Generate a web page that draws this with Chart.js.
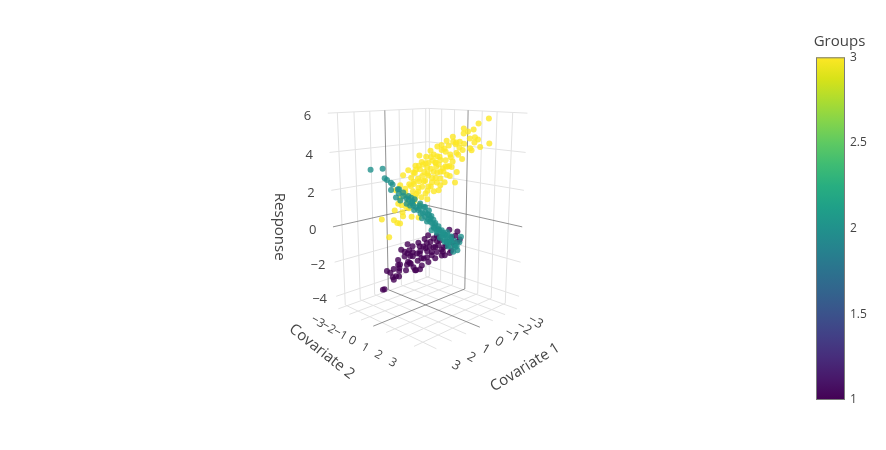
<!DOCTYPE html>
<html><head><meta charset="utf-8">
<script src="https://cdn.jsdelivr.net/npm/chart.js@4.4.1/dist/chart.umd.min.js"></script>
<style>html,body{margin:0;padding:0;background:#fff;}canvas{display:block;}</style>
</head><body>
<canvas id="c" width="886" height="450"></canvas>
<script>
// ---------- data ----------
const cov1Ticks = [-3,-2,-1,0,1,2,3];
const cov2Ticks = [-3,-2,-1,0,1,2,3];
const responseTicks = [-4,-2,0,2,4,6];
const groupTicks = [1,1.5,2,2.5,3];
const groupLabels = [1,2,3];

const g1Cov1 = [-0.73,-1.75,-0.32,-0.62,0.68,-0.55,0.71,0.61,-0.58,-0.05,-0.58,0.05,-1.48,0.53,-0.36,1.42,0.73,0.99,-0.36,0.26,-0.09,-0.97,0.28,0.10,1.40,-0.01,1.07,0.97,0.32,1.21,1.10,2.03,0.08,1.43,0.96,2.44,0.31,0.57,-0.96,-0.52,-0.81,-1.45,-0.86,-0.20,0.55,-0.60,0.52,0.48,-0.94,-0.72,-1.18,1.55,-0.52,0.93,0.75,2.50,1.15,1.41,-0.18,-0.23,-0.50,-0.84,-0.39,-0.17,1.31,-0.13,
  0.62,-0.59,-0.10,-1.21,0.12,-1.21,-0.10,0.84,0.21,1.22,1.23,0.83,-1.31,-0.55,-1.42,1.83];
const g1Cov2 = [1.03,0.65,1.12,0.22,0.92,-1.15,-0.61,0.49,-0.22,0.55,0.38,1.25,0.08,0.17,-0.24,0.58,-0.83,-0.09,-0.84,0.14,0.39,-0.13,0.52,-0.50,0.20,-1.69,-0.97,0.13,-1.12,-0.71,-1.30,-0.73,-1.48,-0.73,-1.56,-0.44,-0.41,0.33,-0.24,0.92,1.11,0.95,1.66,-0.20,1.05,-1.10,-0.42,0.62,0.14,1.22,0.98,-0.25,-0.88,-0.23,-1.35,-0.50,-1.25,-0.51,-1.02,0.63,0.80,-0.26,1.19,-0.24,0.30,-1.57,
  -0.32,-0.52,0.90,0.81,1.48,-0.49,0.20,0.26,-1.01,-0.72,-1.43,0.47,-0.09,1.25,0.82,0.18];
const g1Response = [-0.22,-0.62,-0.40,-0.71,-0.25,-1.40,-1.07,-0.98,-1.14,-1.17,-1.22,-1.12,-1.53,-1.32,-1.65,-1.08,-1.56,-1.56,-1.95,-1.83,-1.67,-1.83,-1.93,-2.16,-1.70,-2.22,-1.98,-2.15,-2.50,-2.35,-2.58,-2.30,-2.98,-2.77,-3.19,-3.13,-2.64,-2.10,-2.22,-1.65,-1.40,-1.09,-0.67,-1.43,-1.17,-1.62,-1.77,-1.59,-1.07,-0.61,-1.23,-1.93,-2.27,-1.28,-2.45,-3.16,-3.19,-2.73,-2.94,-0.85,-1.47,-1.02,-0.78,-0.89,-1.82,-2.05,
  -1.14,-1.29,-0.50,-1.11,-0.90,-1.67,-1.23,-1.37,-2.38,-2.52,-2.81,-2.21,-2.11,-1.45,-0.76,-0.93];

const g2Cov1 = [2.09,1.04,1.74,1.06,1.91,0.17,1.01,1.57,0.32,0.85,0.38,1.01,-0.46,0.35,-0.42,1.36,0.13,0.45,-0.78,0.32,0.09,-0.79,0.04,-0.68,0.56,-1.27,-0.55,-0.17,0.14,0.43,-0.04,0.89,-0.82,0.17,-0.66,0.40,-0.47,-0.21,-1.38,-0.70,-0.39,-1.51,-0.68,-1.04,-0.22,-1.99,-1.21,1.74,0.43,0.68,-0.39,-0.04,-1.57,-0.80,-1.63,0.21,-0.05,-0.02,-1.57,1.64,1.05,0.17,0.29,-0.49,0.19,-1.57,-1.14,-0.50,0.18,0.58,
  0.94,0.10,0.87,0.02,0.87,-0.92,-0.17,0.23,-0.91,-0.40,-0.93,-0.29,-1.49,1.32];
const g2Cov2 = [-1.79,-2.14,-0.94,-1.46,-0.31,-1.87,-0.91,-0.47,-1.12,-0.35,-0.58,0.29,-0.94,0.35,-0.18,0.64,-0.23,0.45,-0.42,0.08,0.21,-0.31,0.76,0.28,1.04,-0.43,0.65,1.27,-0.94,0.07,-0.16,0.41,-0.58,0.53,0.06,1.60,0.37,1.11,0.18,1.10,0.69,0.41,1.48,0.64,1.82,0.29,1.31,-0.64,-1.23,-0.18,0.19,1.34,0.17,1.50,1.03,1.79,-0.05,0.92,0.37,-1.24,-0.75,-1.27,0.51,0.09,1.41,-0.13,1.24,1.60,-0.98,-0.08,
  -0.64,-1.20,-0.07,-0.42,0.73,-0.78,0.27,0.88,0.11,0.90,0.73,1.58,0.09,-0.62];
const g2Response = [3.08,2.96,2.59,2.28,2.47,1.73,1.77,1.71,1.36,1.49,1.28,1.64,0.83,1.12,0.70,1.19,0.62,0.62,0.14,0.44,0.24,-0.11,0.15,-0.17,0.02,-0.68,-0.43,-0.34,1.39,1.27,0.96,1.06,0.28,0.31,-0.02,0.10,-0.47,-0.38,-0.95,-0.74,-0.67,-1.20,-0.94,-1.34,-1.16,-1.67,-0.98,2.11,1.48,1.18,-0.15,-0.57,-1.35,-1.07,-0.82,-0.01,0.69,-0.05,-0.93,2.63,1.41,0.99,0.47,0.20,-0.30,-1.35,-1.45,-0.67,0.94,1.07,
  1.85,1.43,1.34,0.85,0.95,0.28,0.51,0.04,-0.47,-0.34,-0.64,-0.95,-1.29,2.09];

const g3Cov1 = [-2.07,-1.93,-1.28,-1.97,-0.52,-2.26,-1.69,-1.28,-2.38,-2.00,-1.20,-0.55,-1.54,-0.63,-1.52,-0.05,-0.63,-0.27,-1.50,-0.10,-0.27,-1.06,-0.50,-1.18,0.59,-1.21,-0.49,-0.17,-0.40,0.13,0.14,0.71,-0.88,-0.04,-0.92,0.16,-0.99,0.63,-0.66,-0.10,-0.39,-1.33,0.76,-0.08,0.68,-1.21,-0.49,1.03,-0.16,0.25,-0.34,0.23,-1.40,-0.71,0.30,1.36,0.07,0.33,-0.90,-0.28,0.87,-0.07,0.64,-0.20,1.58,-0.31,0.41,0.67,-0.46,1.15,0.56,1.07,-0.46,1.31,0.42,1.54,0.79,1.53,-0.06,0.44,1.29,0.53,1.30,1.42,2.06,-1.54,-1.54,-0.93,-0.87,0.18,0.33,0.87,-0.88,-0.08,-0.23,1.65,0.35,1.28,-1.39,-0.05,0.12,-1.74,1.19,0.13,0.26,-0.38,-1.82,-0.99,
  -0.82,-1.31,-0.03,-0.38,0.98,-0.46,0.66,1.31,0.54,1.30,-0.75,-0.22,-1.85,-0.95,-0.16,-0.08,-1.38,-1.17,-1.18,-0.16,0.19,-0.26,0.91,-0.27,0.08,-1.10,0.38,1.24];
const g3Cov2 = [2.37,0.83,2.08,1.57,2.12,0.56,1.79,2.38,1.58,2.50,1.00,1.85,0.14,1.33,0.92,2.05,0.53,1.17,0.30,0.50,0.57,-0.05,1.30,0.78,1.02,-0.49,0.59,1.27,-0.40,0.37,-0.34,0.59,-0.52,0.74,0.32,1.84,0.89,0.27,-0.54,0.50,0.69,0.23,0.04,-0.32,0.92,-0.49,0.59,0.07,-0.64,0.25,0.14,1.07,0.00,1.41,-0.90,0.64,-0.17,0.57,-0.30,0.68,-0.57,-1.03,0.16,-0.20,0.02,-1.39,-0.31,0.43,-0.34,-0.65,-0.76,0.23,-0.94,-0.61,-1.02,0.46,-0.89,-0.63,-1.14,-0.04,-0.99,-1.63,-0.50,-1.82,-0.46,-0.17,1.64,2.03,0.07,0.32,-0.53,0.43,-0.52,0.78,-0.37,0.36,-0.45,-0.38,0.19,0.45,0.19,0.64,-0.39,-0.53,1.34,-1.32,1.92,2.10,
  1.12,0.21,0.83,-0.02,0.62,-1.25,-0.56,-0.21,-1.34,-0.80,0.55,1.52,0.45,1.65,-0.44,2.08,1.28,2.07,-0.03,0.56,0.12,-0.84,-0.11,-0.13,1.52,-0.60,-0.28,-0.14];
const g3Response = [5.72,5.12,5.18,4.70,5.04,4.26,4.47,4.70,4.15,4.45,4.44,4.60,4.18,4.57,4.14,4.54,4.06,4.06,3.71,3.88,3.77,3.60,3.77,3.42,3.87,3.22,3.55,3.64,3.29,3.45,3.22,3.45,2.91,3.27,3.03,3.45,3.15,3.16,2.67,2.97,2.95,2.61,2.96,2.64,2.92,2.35,2.56,2.74,2.30,2.50,2.32,2.51,2.15,2.43,2.16,2.54,2.10,2.25,1.68,1.98,2.05,1.70,1.96,1.68,2.02,1.32,1.56,1.71,1.30,1.54,1.23,1.42,0.88,1.31,0.88,1.28,0.70,0.98,0.23,0.49,0.33,-0.11,0.24,0.24,-0.34,3.98,4.17,5.10,3.22,3.19,2.35,2.25,1.92,2.96,2.33,1.95,1.34,1.25,3.04,2.63,3.75,3.71,0.64,1.67,2.42,2.67,5.45,4.75,
  4.78,4.47,4.33,4.00,3.94,3.05,3.01,2.87,2.08,2.00,2.90,2.85,2.73,3.66,3.37,4.12,4.06,4.13,4.23,3.44,2.94,2.40,2.27,1.83,3.39,3.33,3.06,2.00];

// ---------- scene / layout ----------
const axisRange = {cov1:[-3.15,3.55], cov2:[-3.15,3.9], resp:[-4.7,6.0]};
const scene = {cx:427.5, cy:215, focal:533.2, dist:7.87, sinE:0.2453, cosE:0.9694, kz:1.5};
const viridis = ['#440154','#48186a','#472d7b','#424086','#3b528b','#33638d','#2c728e','#26828e','#21918c','#1fa088','#28ae80','#3fbc73','#5ec962','#84d44b','#addc30','#d8e219','#fde725'];
const cbBox = {left:816, right:845, top:57.3, bottom:400};
const FONT = '"Open Sans", "Liberation Sans", sans-serif';

function norm(v, r){ return (2*v - r[0] - r[1])/(r[1]-r[0]); }
function project(c1, c2, z){
  const u = norm(c1, axisRange.cov1), v = norm(c2, axisRange.cov2), w = norm(z, axisRange.resp);
  const R = (v-u)/Math.SQRT2, F = (u+v)/Math.SQRT2, Z = scene.kz*w;
  const depth = scene.dist - scene.cosE*F - scene.sinE*Z;
  const up = -scene.sinE*F + scene.cosE*Z;
  return {x: scene.cx + scene.focal*R/depth, y: scene.cy - scene.focal*up/depth};
}
function pts(a,b,c){ return a.map((v,i)=>project(v,b[i],c[i])); }
function fmt(t){ return t<0 ? '\u2212'+Math.abs(t) : String(t); }
function hexA(h,a){ const n=parseInt(h.slice(1),16); return `rgba(${n>>16},${(n>>8)&255},${n&255},${a})`; }
function groupColor(g){ const f=(g-1)/2; return viridis[Math.round(f*(viridis.length-1))]; }

const scene3d = {
  id:'scene3d',
  beforeDatasetsDraw(chart){
    const ctx = chart.ctx, sx = chart.scales.x, sy = chart.scales.y;
    const P = (a,b,c)=>{const p=project(a,b,c); return [sx.getPixelForValue(p.x), sy.getPixelForValue(p.y)];};
    const [x0,x1]=axisRange.cov1, [y0,y1]=axisRange.cov2, [z0,z1]=axisRange.resp;
    const lines = [];
    cov1Ticks.forEach(t=>{ lines.push([[t,y0,z0],[t,y0,z1],t===0]); lines.push([[t,y0,z0],[t,y1,z0],t===0]); });
    cov2Ticks.forEach(t=>{ lines.push([[x0,t,z0],[x0,t,z1],t===0]); lines.push([[x0,t,z0],[x1,t,z0],t===0]); });
    responseTicks.forEach(t=>{ lines.push([[x0,y0,t],[x1,y0,t],t===0]); lines.push([[x0,y0,t],[x0,y1,t],t===0]); });
    ctx.save();
    ctx.lineWidth = 1;
    [false,true].forEach(zero=>{
      ctx.strokeStyle = zero ? 'rgba(110,110,110,0.75)' : 'rgb(226,226,226)';
      lines.filter(l=>l[2]===zero).forEach(l=>{
        const a=P(...l[0]), b=P(...l[1]);
        ctx.beginPath(); ctx.moveTo(a[0],a[1]); ctx.lineTo(b[0],b[1]); ctx.stroke();
      });
    });
    ctx.restore();
  },
  afterDatasetsDraw(chart){
    const ctx = chart.ctx, sx = chart.scales.x, sy = chart.scales.y;
    const P = (a,b,c)=>{const p=project(a,b,c); return [sx.getPixelForValue(p.x), sy.getPixelForValue(p.y)];};
    const [x0,x1]=axisRange.cov1, [y0,y1]=axisRange.cov2, [z0,z1]=axisRange.resp;
    const hx=(x1-x0)/2, hy=(y1-y0)/2, hz=(z1-z0)/2;
    ctx.save();
    ctx.fillStyle = '#444';
    // response ticks
    ctx.font = '13px '+FONT; ctx.textAlign='left'; ctx.textBaseline='middle';
    responseTicks.forEach(t=>{ const p=P(x1,y0,t); ctx.fillText(fmt(t), p[0]-24, p[1]+3); });
    // covariate ticks
    function rotText(txt,p,ang){ ctx.save(); ctx.translate(p[0],p[1]); ctx.rotate(ang*Math.PI/180); ctx.textAlign='center'; ctx.textBaseline='middle'; ctx.fillText(txt,0,0); ctx.restore(); }
    ctx.font = '12px '+FONT;
    cov2Ticks.forEach(t=>rotText(fmt(t), P(x1+0.38*hx, t, z0-0.06*hz), 30));
    ctx.font = '13px '+FONT;
    cov1Ticks.forEach(t=>rotText(fmt(t), P(t, y1+0.35*hy, z0-0.07*hz), 30));
    // titles
    ctx.font = '15px '+FONT;
    rotText('Covariate 2', P(x1+0.95*hx, (y0+y1)/2, z0), 38.5);
    rotText('Covariate 1', P(x0+1.4*hx, y1+1.1*hy, z0), -32);
    rotText('Response', P(x1+0.566*hx, y0-0.566*hy, (z0+z1)/2-0.12*hz), 90);
    // colorbar
    const g = ctx.createLinearGradient(0,cbBox.bottom,0,cbBox.top);
    viridis.forEach((c,i)=>g.addColorStop(i/(viridis.length-1), c));
    ctx.fillStyle = g;
    ctx.fillRect(cbBox.left, cbBox.top, cbBox.right-cbBox.left, cbBox.bottom-cbBox.top);
    ctx.strokeStyle = '#7a7a7a'; ctx.lineWidth = 1;
    ctx.strokeRect(cbBox.left+0.5, cbBox.top+0.5, cbBox.right-cbBox.left-1, cbBox.bottom-cbBox.top-1);
    ctx.fillStyle = '#444'; ctx.font = '12px '+FONT; ctx.textAlign='left'; ctx.textBaseline='middle';
    const gmin = groupLabels[0], gmax = groupLabels[groupLabels.length-1];
    groupTicks.forEach(t=>{ const y = cbBox.bottom - (t-gmin)/(gmax-gmin)*(cbBox.bottom-cbBox.top); ctx.fillText(String(t), cbBox.right+5, y); });
    ctx.font = '15px '+FONT; ctx.textAlign='center';
    ctx.fillText('Groups', (cbBox.left+cbBox.right)/2+9, 42);
    ctx.restore();
  }
};

const mk = (label, data, g, order)=>({label, data, order, backgroundColor: hexA(groupColor(g),0.8), borderWidth:0, pointRadius:3, pointHoverRadius:3});

new Chart(document.getElementById('c'), {
  type:'scatter',
  data:{ datasets:[
    mk('1', pts(g1Cov1,g1Cov2,g1Response), 1, 1),
    mk('2', pts(g2Cov1,g2Cov2,g2Response), 2, 0),
    mk('3', pts(g3Cov1,g3Cov2,g3Response), 3, 2)
  ]},
  options:{
    responsive:false, animation:false, devicePixelRatio:1,
    layout:{padding:0},
    plugins:{legend:{display:false}, tooltip:{enabled:false}},
    scales:{
      x:{type:'linear', min:0, max:886, display:false},
      y:{type:'linear', min:0, max:450, reverse:true, display:false}
    }
  },
  plugins:[scene3d]
});
</script>
</body></html>
